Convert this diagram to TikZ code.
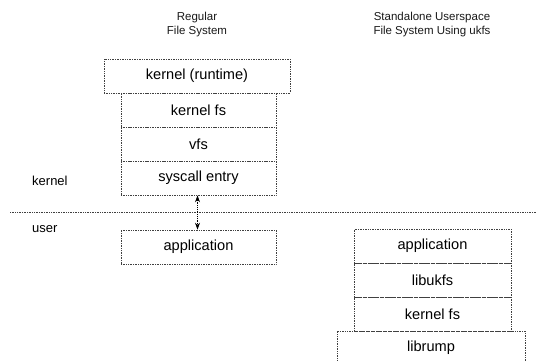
\documentclass[tikz,border=0pt]{standalone}
\usepackage{fontspec}
\setmainfont{Liberation Sans}
\usetikzlibrary{arrows.meta}
\begin{document}
\begin{tikzpicture}[x=1pt,y=-1pt,
  layer/.style={draw=black!75, densely dotted, line width=0.7pt, rectangle,
    inner sep=0pt, font=\fontsize{14.6}{16}\selectfont, text=black},
  sidelabel/.style={font=\fontsize{13}{15}\selectfont, anchor=west, inner sep=0pt, text=black},
  title/.style={font=\fontsize{11.5}{13.5}\selectfont, align=center, inner sep=0pt, text=black!90}]
\clip (0,0) rectangle (536,361);
\useasboundingbox (0,0) rectangle (536,361);

% column titles
\node[title] (t1) at (197,24.5) {Regular\\File System};
\node[title] (t2) at (432,24.5) {Standalone Userspace\\File System Using ukfs};

% in-kernel file system stack
\node[layer, minimum width=186pt, minimum height=34pt] (rt) at (197,76) {kernel (runtime)};
\node[layer, minimum width=155pt, minimum height=34pt] (kfs) at (198.5,110) {kernel fs};
\node[layer, minimum width=155pt, minimum height=34pt] (vfs) at (198.5,144) {vfs};
\node[layer, minimum width=155pt, minimum height=34pt] (sys) at (198.5,178) {syscall entry};
\node[layer, minimum width=155pt, minimum height=34pt] (app) at (198.5,247) {application};

% kernel / user boundary
\coordinate (sepL) at (10,212);
\coordinate (sepR) at (536,212);
\draw[black!75, densely dotted, line width=0.7pt] (sepL) -- (sepR);
\node[sidelabel] (lk) at (32,181) {kernel};
\node[sidelabel] (lu) at (32,229) {user};

\draw[black, densely dotted, line width=0.8pt, {Stealth[length=7pt,width=5pt]}-{Stealth[length=7pt,width=5pt]}]
  ([xshift=-1pt]sys.south) -- ([xshift=-1pt]app.north);

% userspace stack
\node[layer, minimum width=157pt, minimum height=34pt] (uapp) at (432.5,246) {application};
\node[layer, minimum width=157pt, minimum height=34pt] (ukfs) at (432.5,280) {libukfs};
\node[layer, minimum width=157pt, minimum height=34pt] (ukern) at (432.5,314) {kernel fs};
\node[layer, minimum width=188pt, minimum height=34pt] (rump) at (431,348) {librump};
\end{tikzpicture}
\end{document}
